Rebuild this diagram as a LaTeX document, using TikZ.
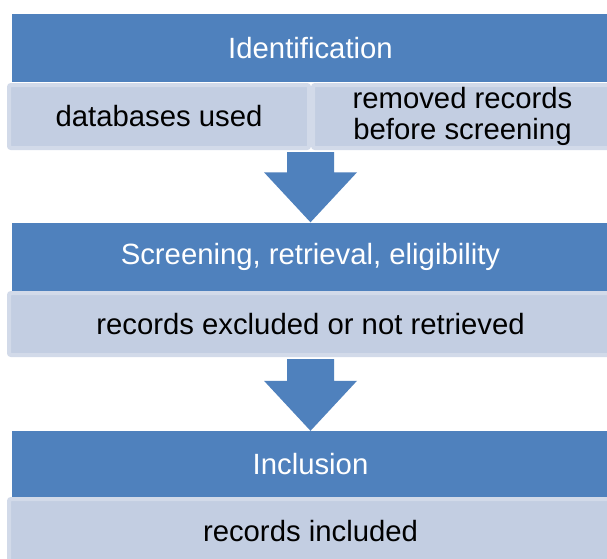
\documentclass[tikz,border=0pt]{standalone}
\usepackage{fontspec}
\setmainfont{Liberation Sans}
\usetikzlibrary{calc}
\definecolor{hdrblue}{HTML}{4F81BD}
\definecolor{lightfill}{HTML}{C3CEE2}
\definecolor{lightedge}{HTML}{D2DAE9}
\newcommand\blockarrow[2]{\fill[arrowfill] let \p1=(#1), \p2=(#2) in
  (\x2-23.5pt,\y1) -- (\x2+23.5pt,\y1) -- (\x2+23.5pt,\y2+50pt) -- (\x2+46.5pt,\y2+50pt)
  -- (\x2,\y2) -- (\x2-46.5pt,\y2+50pt) -- (\x2-23.5pt,\y2+50pt) -- cycle;}
\begin{document}
\begin{tikzpicture}[x=1pt,y=-1pt,
  font=\fontsize{29.3}{31}\selectfont,
  header/.style={fill=hdrblue, text=white, minimum width=597pt, minimum height=68pt, inner sep=0pt},
  sub/.style={fill=lightfill, draw=lightedge, line width=4pt, rounded corners=2pt, inner sep=0pt, align=center, text=black},
  arrowfill/.style={fill=hdrblue}]
\useasboundingbox (0,0) rectangle (607,558);
\fill[white] (0,0) rectangle (607,558);
\node[header] (hdr1) at (310.5,48) {Identification};
\node[sub, minimum width=300pt, minimum height=63pt] (db) at (159,116.5) {databases used};
\node[sub, minimum width=299pt, minimum height=63pt] (rm) at (462.5,116.5) {removed records\\before screening};
\node[header] (hdr2) at (310.5,256.5) {Screening, retrieval, eligibility};
\node[sub, minimum width=603pt, minimum height=62pt] (ex) at (310.5,324) {records excluded or not retrieved};
\node[header, minimum height=66pt] (hdr3) at (310.5,464) {Inclusion};
\node[sub, minimum width=603pt, minimum height=64pt] (inc) at (310.5,531) {records included};
\blockarrow{$(hdr1.south |- db.south)+(0,2)$}{hdr2.north}
\blockarrow{$(ex.south)+(0,2)$}{hdr3.north}
\end{tikzpicture}
\end{document}
